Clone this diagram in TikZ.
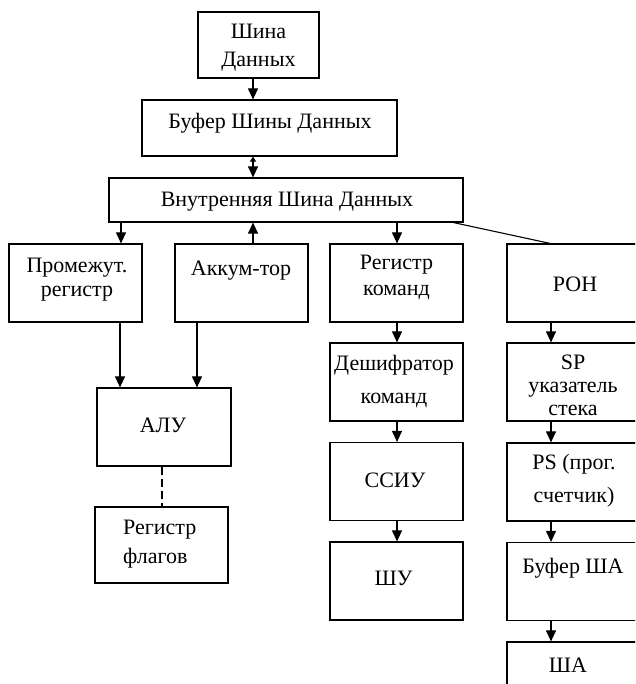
\documentclass[tikz,border=0pt]{standalone}
\usepackage{fontspec}
\setmainfont{Liberation Serif}
\usetikzlibrary{arrows.meta}

\begin{document}
\begin{tikzpicture}[x=1pt, y=-1pt,
        blk/.style={draw, line width=1.2pt, inner sep=0pt, minimum width=133pt, minimum height=78pt},
        txt/.style={inner sep=0pt, align=center, font=\fontsize{22}{27}\selectfont},
        arr/.style={line width=1.1pt, -{Triangle[width=10pt,length=11pt]}}]
            \useasboundingbox (0,0) rectangle (635,684);
            \clip (0,0) rectangle (635,684);

            % Data bus and its buffer
            \node[blk, minimum width=121pt, minimum height=66pt] (shd) at (258.5,45) {};
            \node[txt, font=\fontsize{22}{28}\selectfont] (shdT) at (258.5,48) {Шина\\Данных};
            \node[blk, minimum width=255pt, minimum height=56pt] (bsd) at (269.5,128) {};
            \node[txt] (bsdT) at (270,123) {Буфер Шины Данных};
            \node[blk, minimum width=354pt, minimum height=44pt] (vsd) at (286,200) {};
            \node[txt] (vsdT) at (287,202) {Внутренняя Шина Данных};

            % Bus taps
            \coordinate (tapA) at (121,0);
            \coordinate (tapB) at (253,0);
            \coordinate (tapC) at (397,0);
            \coordinate (tapD) at (551,0);
            \coordinate (tapE) at (120,0);
            \coordinate (tapF) at (197,0);
            \coordinate (tapG) at (162,0);

            % Arithmetic part
            \node[blk] (prm) at (75.5,283) {};
            \node[txt, font=\fontsize{22}{24}\selectfont] (prmT) at (77,279.5) {Промежут.\\регистр};
            \node[blk] (acc) at (241.5,283) {};
            \node[txt] (accT) at (241,271) {Аккум-тор};
            \node[blk, minimum width=134pt] (alu) at (164,427) {};
            \node[txt] (aluT) at (163,425.5) {АЛУ};
            \node[blk, minimum height=76pt] (rf) at (161.5,545) {};
            \node[txt, align=left, anchor=west, font=\fontsize{22}{29}\selectfont] (rfT) at (123,544.5) {Регистр\\флагов};

            % Control part
            \node[blk] (rk) at (396.5,283) {};
            \node[txt, font=\fontsize{22}{26}\selectfont] (rkT) at (396.5,277.5) {Регистр\\команд};
            \node[blk] (dk) at (396.5,382) {};
            \node[txt, font=\fontsize{22}{33}\selectfont] (dkT) at (394,381) {Дешифратор\\команд};
            \node[blk] (ssiu) at (396.5,481.5) {};
            \node[txt] (ssiuT) at (395,480) {ССИУ};
            \node[blk] (shu) at (396.5,581) {};
            \node[txt] (shuT) at (393.5,578.5) {ШУ};

            % Registers and address path
            \node[blk] (ron) at (573.5,283) {};
            \node[txt] (ronT) at (575,284.5) {РОН};
            \node[blk] (sp) at (573.5,382) {};
            \node[txt, font=\fontsize{22}{23}\selectfont] (spT) at (573,385) {SP\\указатель\\стека};
            \node[blk] (ps) at (573.5,482) {};
            \node[txt, font=\fontsize{22}{33}\selectfont] (psT) at (574,481) {PS (прог.\\счетчик)};
            \node[blk] (bsha) at (573.5,581.5) {};
            \node[txt] (bshaT) at (573,568) {Буфер ША};
            \node[blk] (sha) at (573.5,681) {};
            \node[txt] (shaT) at (568,665) {ША};

            % Connections
            \draw[arr] (shd.south -| tapB) -- (bsd.north -| tapB);
            \draw[line width=1.1pt, {Triangle[width=6pt,length=5pt]}-{Triangle[width=10pt,length=11pt]}] (bsd.south -| tapB) -- (vsd.north -| tapB);
            \draw[arr] (vsd.south -| tapA) -- (prm.north -| tapA);
            \draw[arr] (acc.north -| tapB) -- (vsd.south -| tapB);
            \draw[arr] (vsd.south -| tapC) -- (rk.north -| tapC);
            \draw[line width=1.1pt] ([xshift=-10pt]vsd.south east) -- ([xshift=-23.5pt]ron.north);
            \draw[arr] (prm.south -| tapE) -- (alu.north -| tapE);
            \draw[arr] (acc.south -| tapF) -- (alu.north -| tapF);
            \draw[line width=1.1pt, dash pattern=on 8pt off 4pt] (alu.south -| tapG) -- (rf.north -| tapG);
            \draw[arr] (rk.south -| tapC) -- (dk.north -| tapC);
            \draw[arr] (dk.south -| tapC) -- (ssiu.north -| tapC);
            \draw[arr] (ssiu.south -| tapC) -- (shu.north -| tapC);
            \draw[arr] (ron.south -| tapD) -- (sp.north -| tapD);
            \draw[arr] (sp.south -| tapD) -- (ps.north -| tapD);
            \draw[arr] (ps.south -| tapD) -- (bsha.north -| tapD);
            \draw[arr] (bsha.south -| tapD) -- (sha.north -| tapD);

        \end{tikzpicture}
\end{document}
